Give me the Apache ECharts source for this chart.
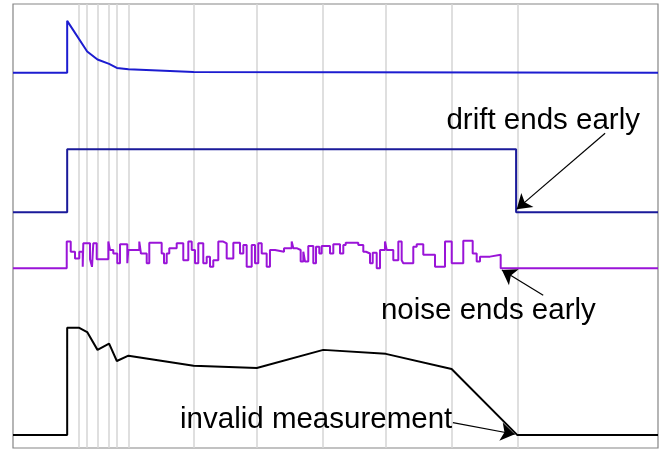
<!DOCTYPE html>
<html>
<head>
<meta charset="utf-8">
<script src="https://cdn.jsdelivr.net/npm/echarts@6/dist/echarts.min.js"></script>
<style>html,body{margin:0;padding:0;background:#fff}#c{width:665px;height:450px}</style>
</head>
<body>
<div id="c"></div>
<script>
// sample times (vertical guide lines)
const sampleTimes = [10.2, 11.5, 13.1, 14.9, 16.1, 17.9, 28.0, 37.8, 48.1, 57.8, 68.0, 78.2];

// trace 1: decaying response
const responseTrace = [[0,84.5],[8.4,84.5],[8.4,96.2],[11.5,89.3],[13.1,87.5],[14.9,86.5],[16.1,85.6],[17.9,85.3],[28.0,84.7],[100,84.5]];

// trace 2: drift (ends early)
const driftTrace = [[0,53.1],[8.4,53.1],[8.4,67.3],[78.0,67.3],[78.0,53.1],[100,53.1]];

// trace 3: noise (step, value holds until next point)
const noiseTrace = [
[0,40.5],[8.33,46.5],[8.95,44.2],[9.61,42.7],[10.28,44.2],[10.81,40.8],[10.9,46.1],[11.94,42.5],[12.25,40.8],[12.45,46.1],
[12.98,42.5],[14.78,46.5],[15.04,44.6],[15.55,43.8],[16.17,41.6],[16.59,45.9],[17.72,41.6],[17.88,44.6],[19.58,46.5],[19.84,43.8],
[20.73,41.6],[21.13,46.2],[23.05,43.8],[23.41,41.6],[23.83,43.8],[24.23,45.0],[25.38,46.1],[26.4,42.3],[27.18,46.5],[27.71,44.6],
[28.22,41.6],[28.73,46.1],[29.5,41.6],[30.03,43.1],[30.54,40.8],[31.05,42.3],[31.83,46.5],[32.6,46.1],[33.13,42.7],[34.16,46.2],
[35.19,43.8],[35.71,45.7],[36.23,40.8],[37.01,45.7],[37.52,41.6],[38.03,46.1],[38.56,43.8],[39.33,40.8],[39.84,44.6],[40.62,44.2],
[42.02,45.0],[43.21,46.5],[43.46,45.0],[43.98,44.6],[44.6,42.0],[45.01,44.2],[45.27,42.0],[45.78,45.5],[46.56,41.6],[46.98,45.3],
[47.49,43.8],[47.86,45.5],[49.15,43.8],[49.66,45.9],[50.7,43.8],[51.21,45.7],[51.58,46.2],[53.53,45.7],[54.31,44.2],[54.73,43.8],
[55.35,41.6],[55.77,44.0],[56.39,40.5],[56.9,44.6],[57.67,46.5],[57.94,44.6],[58.96,42.3],[59.74,46.5],[60.26,42.3],[60.51,41.6],
[62.06,45.3],[62.59,45.9],[63.61,43.5],[65.43,40.8],[66.98,46.5],[68.02,41.6],[69.81,46.7],[71.27,43.8],[71.89,42.0],[72.4,43.1],
[73.95,43.5],[75.61,40.5],[100,40.5]
];

// trace 4: measurement (invalid at end)
const measurementTrace = [[0,2.9],[8.4,2.9],[8.4,27.1],[10.2,27.1],[11.5,26.1],[13.1,22.1],[14.9,23.5],[16.1,19.6],[17.9,20.8],[28.0,18.5],[37.8,18.0],[48.1,22.1],[57.8,21.2],[68.0,17.8],[78.2,2.9],[100,2.9]];

// annotations
const noteTexts = ['drift ends early', 'noise ends early', 'invalid measurement'];
const notePositions = [[82.2, 73.6], [73.7, 31.0], [47.0, 6.4]];
const arrowFrom = [[91.8, 70.9], [82.2, 34.4], [68.2, 5.7]];
const arrowTo = [[78.1, 53.8], [75.8, 40.1], [77.8, 3.1]];

const FONT = "'Liberation Sans', Arial, sans-serif";

const chart = echarts.init(document.getElementById('c'), null, {renderer: 'canvas'});
chart.setOption({
  animation: false,
  grid: {left: 13, top: 4, right: 7, bottom: 2, show: true, borderColor: '#858585', borderWidth: 1.2, backgroundColor: '#fff'},
  xAxis: {type: 'value', min: 0, max: 100, show: false},
  yAxis: {type: 'value', min: 0, max: 100, show: false},
  series: [
    {
      type: 'line', data: [], silent: true, z: 1,
      markLine: {
        z: 1, silent: true, symbol: ['none', 'none'], label: {show: false},
        lineStyle: {color: '#d4d4d4', width: 1.5, type: 'solid'},
        data: sampleTimes.map(t => ({xAxis: t}))
      }
    },
    {type: 'line', data: responseTrace, showSymbol: false, z: 3, lineStyle: {color: '#1c1cd0', width: 2}},
    {type: 'line', data: driftTrace, showSymbol: false, z: 3, lineStyle: {color: '#1a1a9a', width: 2}},
    {type: 'line', data: noiseTrace, step: 'end', showSymbol: false, z: 3, lineStyle: {color: '#9a14d8', width: 2}},
    {type: 'line', data: measurementTrace, showSymbol: false, z: 3, lineStyle: {color: '#000', width: 2}},
    {
      type: 'line', data: [], silent: true, z: 5,
      markLine: {
        z: 6, silent: true, symbol: ['none', 'arrow'], symbolSize: 14, label: {show: false},
        lineStyle: {color: '#000', width: 1.2, type: 'solid'},
        data: arrowFrom.map((f, i) => [{coord: f}, {coord: arrowTo[i]}])
      },
      markPoint: {
        z: 6, silent: true, symbol: 'rect', symbolSize: 1, itemStyle: {color: 'rgba(0,0,0,0)'},
        label: {show: true, position: 'inside', color: '#000', fontSize: 29.5, fontFamily: FONT, formatter: p => p.name},
        data: noteTexts.map((t, i) => ({name: t, coord: notePositions[i]}))
      }
    }
  ]
});
</script>
</body>
</html>
